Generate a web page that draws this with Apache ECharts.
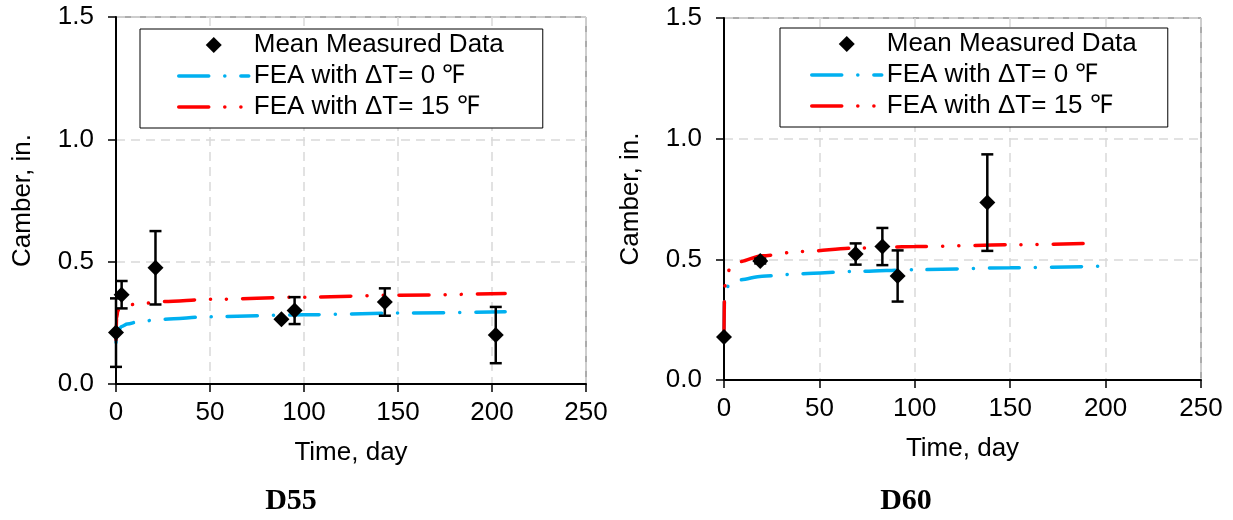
<!DOCTYPE html>
<html>
<head>
<meta charset="utf-8">
<script src="https://cdn.jsdelivr.net/npm/echarts@6/dist/echarts.min.js"></script>
<style>
  html, body { margin: 0; padding: 0; background: #fff; }
  #chart { width: 1233px; height: 520px; }
</style>
</head>
<body>
<div id="chart"></div>
<script>
// D55 girder - measured mean camber and error half-range
var d55Day = [0, 3, 21, 88, 95, 143, 202];
var d55Camber = [0.21, 0.365, 0.475, 0.265, 0.30, 0.335, 0.20];
var d55Err = [0.14, 0.056, 0.15, 0, 0.055, 0.056, 0.115];
// D55 FEA curves
var d55FeaDay = [0, 0.3, 1, 3, 6, 12, 25, 50, 100, 150, 207];
var d55Fea0 = [0.17, 0.20, 0.215, 0.235, 0.245, 0.255, 0.265, 0.275, 0.283, 0.29, 0.295];
var d55Fea15 = [0.18, 0.27, 0.30, 0.315, 0.322, 0.328, 0.337, 0.346, 0.355, 0.363, 0.37];

// D60 girder
var d60Day = [0, 19, 69, 83, 91, 138];
var d60Camber = [0.178, 0.493, 0.522, 0.553, 0.431, 0.735];
var d60Err = [0, 0.01, 0.044, 0.077, 0.106, 0.2];
var d60FeaDay = [0, 0.3, 1, 3, 8, 20, 40, 70, 100, 150, 200];
var d60Fea0 = [0.20, 0.35, 0.375, 0.40, 0.415, 0.43, 0.44, 0.45, 0.457, 0.465, 0.472];
var d60Fea15Day = [0, 0.3, 1, 3, 8, 20, 40, 70, 100, 150, 193];
var d60Fea15 = [0.20, 0.38, 0.42, 0.46, 0.49, 0.515, 0.532, 0.547, 0.553, 0.56, 0.567];

var NAME_MEAS = 'Mean Measured Data';
var NAME_FEA0 = 'FEA with ΔT= 0 ℉';
var NAME_FEA15 = 'FEA with ΔT= 15 ℉';

var FONT = 'Liberation Sans, Arial, sans-serif';

function pairs(xs, ys) {
  return xs.map(function (x, i) { return [x, ys[i]]; });
}
function bars(xs, ys, es) {
  return xs.map(function (x, i) { return [x, ys[i] - es[i], ys[i] + es[i]]; });
}

function errorBar(params, api) {
  var x = api.value(0);
  var top = api.coord([x, api.value(2)]);
  var bot = api.coord([x, api.value(1)]);
  var w = 6;
  var st = { stroke: '#000', lineWidth: 2.5 };
  if (Math.abs(top[1] - bot[1]) < 1) return;
  return {
    type: 'group',
    children: [
      { type: 'line', shape: { x1: top[0], y1: top[1], x2: bot[0], y2: bot[1] }, style: st },
      { type: 'line', shape: { x1: top[0] - w, y1: top[1], x2: top[0] + w, y2: top[1] }, style: st },
      { type: 'line', shape: { x1: bot[0] - w, y1: bot[1], x2: bot[0] + w, y2: bot[1] }, style: st }
    ]
  };
}

function xAxis(idx) {
  return {
    type: 'value', gridIndex: idx, min: 0, max: 250, interval: 50,
    name: 'Time, day', nameLocation: 'middle', nameGap: 56,
    nameTextStyle: { fontFamily: FONT, fontSize: 26, color: '#000' },
    axisLine: { lineStyle: { color: '#000', width: 2 } },
    axisTick: { show: true, length: 8, lineStyle: { color: '#000', width: 1.5 } },
    axisLabel: { fontFamily: FONT, fontSize: 26, color: '#000', margin: 16 },
    splitLine: { show: true, lineStyle: { color: '#d9d9d9', width: 1.5, type: [9, 6] } }
  };
}
function yAxis(idx) {
  return {
    type: 'value', gridIndex: idx, min: 0, max: 1.5, interval: 0.5,
    name: 'Camber, in.', nameLocation: 'middle', nameGap: 80,
    nameTextStyle: { fontFamily: FONT, fontSize: 26, color: '#000' },
    axisLine: { show: true, lineStyle: { color: '#000', width: 2 } },
    axisTick: { show: true, length: 8, lineStyle: { color: '#000', width: 1.5 } },
    axisLabel: {
      fontFamily: FONT, fontSize: 26, color: '#000', margin: 22,
      formatter: function (v) { return v.toFixed(1); }
    },
    splitLine: { show: true, lineStyle: { color: '#d9d9d9', width: 1.5, type: [9, 6] } }
  };
}
function legend(left, top, pad) {
  return {
    left: left, top: top, orient: 'vertical',
    padding: pad, itemGap: 5, itemWidth: 70, itemHeight: 16,
    symbolKeepAspect: true,
    borderColor: '#000', borderWidth: 1, backgroundColor: '#fff',
    textStyle: { fontFamily: FONT, fontSize: 26, color: '#000' },
    data: [
      { name: NAME_MEAS, icon: 'path://M0,-1L1,0L0,1L-1,0Z', itemStyle: { color: '#000', opacity: 1 } },
      { name: NAME_FEA0, lineStyle: { width: 3.5 }, itemStyle: { opacity: 0 } },
      { name: NAME_FEA15, lineStyle: { width: 3.5 }, itemStyle: { opacity: 0 } }
    ]
  };
}
function seriesFor(idx, mDay, mVal, mErr, f0Day, f0, f15Day, f15) {
  return [
    {
      type: 'line', name: NAME_FEA0, xAxisIndex: idx, yAxisIndex: idx,
      data: pairs(f0Day, f0), smooth: 0.3, smoothMonotone: 'x',
      symbol: 'none', lineStyle: { color: '#00b0f0', width: 3.5, cap: 'round', type: [30, 16, 0.1, 16] },
      itemStyle: { color: '#00b0f0' }, z: 3
    },
    {
      type: 'line', name: NAME_FEA15, xAxisIndex: idx, yAxisIndex: idx,
      data: pairs(f15Day, f15), smooth: 0.3, smoothMonotone: 'x',
      symbol: 'none', lineStyle: { color: '#ff0000', width: 3.5, cap: 'round', type: [30, 16, 0.1, 16, 0.1, 16] },
      itemStyle: { color: '#ff0000' }, z: 4
    },
    {
      type: 'custom', name: 'err' + idx, xAxisIndex: idx, yAxisIndex: idx,
      renderItem: errorBar, data: bars(mDay, mVal, mErr),
      encode: { x: 0, y: [1, 2] }, z: 5
    },
    {
      type: 'scatter', name: NAME_MEAS, xAxisIndex: idx, yAxisIndex: idx,
      data: pairs(mDay, mVal), symbol: 'diamond', symbolSize: 16,
      itemStyle: { color: '#000', opacity: 1 }, z: 6
    }
  ];
}

var chart = echarts.init(document.getElementById('chart'), null, { renderer: 'canvas' });
chart.setOption({
  backgroundColor: '#fff',
  animation: false,
  grid: [
    { left: 116, top: 17, width: 470, height: 367, show: true, borderColor: '#595959', borderWidth: 1, backgroundColor: 'transparent' },
    { left: 724, top: 18, width: 477, height: 362, show: true, borderColor: '#595959', borderWidth: 1, backgroundColor: 'transparent' }
  ],
  xAxis: [xAxis(0), xAxis(1)],
  yAxis: [yAxis(0), yAxis(1)],
  legend: [legend(140, 29, [3, 39, 8, 37]), legend(780, 28, [3, 31, 8, 30])],
  graphic: [
    { type: 'text', x: 291, y: 501, style: { text: 'D55', font: 'bold 30px "Liberation Serif", "Times New Roman", serif', fill: '#000', align: 'center', verticalAlign: 'middle' } },
    { type: 'text', x: 906, y: 501, style: { text: 'D60', font: 'bold 30px "Liberation Serif", "Times New Roman", serif', fill: '#000', align: 'center', verticalAlign: 'middle' } }
  ],
  series: seriesFor(0, d55Day, d55Camber, d55Err, d55FeaDay, d55Fea0, d55FeaDay, d55Fea15)
    .concat(seriesFor(1, d60Day, d60Camber, d60Err, d60FeaDay, d60Fea0, d60Fea15Day, d60Fea15))
});
</script>
</body>
</html>
